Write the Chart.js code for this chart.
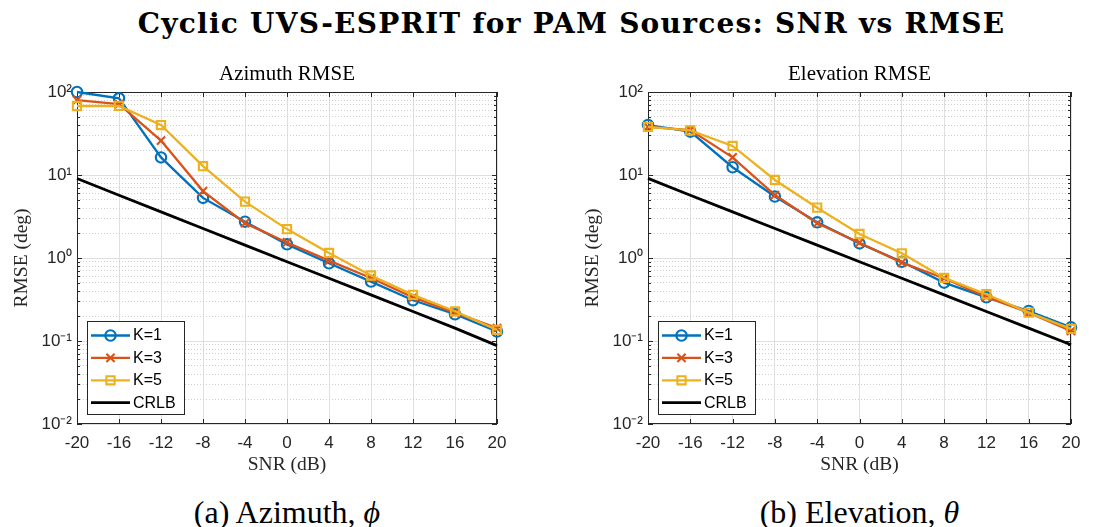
<!DOCTYPE html>
<html>
<head>
<meta charset="utf-8">
<script src="https://cdn.jsdelivr.net/npm/chart.js@4/dist/chart.umd.min.js"></script>
<style>
html,body{margin:0;padding:0;background:#fff;}
body{width:1096px;height:527px;overflow:hidden;position:relative;}
#mainTitle{position:absolute;left:0;top:10px;width:1143px;text-align:center;font-family:"DejaVu Serif";font-weight:bold;font-size:28px;line-height:28px;letter-spacing:1.25px;color:#000;white-space:nowrap;}
.cap{position:absolute;top:496px;text-align:center;font-family:"Liberation Serif";font-size:32px;line-height:32px;color:#000;white-space:nowrap;}
#capA{left:0;width:574px;}
#capB{left:571px;width:577px;}
canvas{position:absolute;top:55px;}
#azCanvas{left:0;}
#elCanvas{left:571px;}
</style>
</head>
<body>
<div id="mainTitle">Cyclic UVS-ESPRIT for PAM Sources: SNR vs RMSE</div>
<canvas id="azCanvas" width="522" height="425"></canvas>
<canvas id="elCanvas" width="525" height="425"></canvas>
<div class="cap" id="capA">(a) Azimuth, <i>ϕ</i></div>
<div class="cap" id="capB">(b) Elevation, <i>θ</i></div>
<script>
// ---- data ----
const snrDb = [-20, -16, -12, -8, -4, 0, 4, 8, 12, 16, 20];
const seriesLabels = ['K=1', 'K=3', 'K=5', 'CRLB'];

const azimuthK1   = [100, 84, 16.3, 5.3, 2.74, 1.46, 0.865, 0.52, 0.31, 0.21, 0.13];
const azimuthK3   = [80, 71.6, 26, 6.4, 2.63, 1.54, 0.93, 0.575, 0.336, 0.22, 0.143];
const azimuthK5   = [67.8, 68, 40, 12.8, 4.78, 2.23, 1.15, 0.615, 0.36, 0.228, 0.136];
const azimuthCRLB = [9.06, 5.7, 3.6, 2.27, 1.43, 0.9, 0.57, 0.36, 0.227, 0.143, 0.088];

const elevationK1   = [40, 33.3, 12.4, 5.5, 2.69, 1.5, 0.9, 0.505, 0.336, 0.23, 0.146];
const elevationK3   = [38, 34.8, 16.3, 5.74, 2.62, 1.53, 0.88, 0.57, 0.34, 0.22, 0.132];
const elevationK5   = [38, 34.5, 22.4, 8.7, 4.04, 1.95, 1.14, 0.575, 0.366, 0.22, 0.14];
const elevationCRLB = [9.1, 5.7, 3.6, 2.27, 1.43, 0.9, 0.57, 0.36, 0.227, 0.143, 0.09];

const yDecades = [0.01, 0.1, 1, 10, 100];
const yDecadeLabels = ['10\u207B\u00B2', '10\u207B\u00B9', '10\u2070', '10\u00B9', '10\u00B2'];

// ---- styles ----
const seriesColors = ['#0072BD', '#D95319', '#EDB120', '#000000'];
const seriesMarkers = ['circle', 'crossRot', 'rect', false];
const seriesWidths = [2.3, 2.3, 2.3, 2.8];
const seriesOrder = [4, 3, 2, 1];

function isDecade(v) {
  const l = Math.log10(v);
  return Math.abs(l - Math.round(l)) < 1e-9;
}
function logTickValues() {
  const vals = [];
  for (let e = -2; e <= 1; e++) {
    for (let k = 1; k <= 9; k++) vals.push(Number((k * Math.pow(10, e)).toPrecision(3)));
  }
  vals.push(100);
  return vals;
}

function drawMarker(ctx, style, x, y, r) {
  ctx.beginPath();
  if (style === 'circle') {
    ctx.arc(x, y, r, 0, Math.PI * 2);
  } else if (style === 'crossRot') {
    const d = r * Math.SQRT1_2;
    ctx.moveTo(x - d, y - d); ctx.lineTo(x + d, y + d);
    ctx.moveTo(x - d, y + d); ctx.lineTo(x + d, y - d);
  } else if (style === 'rect') {
    const d = r * Math.SQRT1_2;
    ctx.rect(x - d, y - d, 2 * d, 2 * d);
  }
  ctx.stroke();
}

const matlabAxes = {
  id: 'matlabAxes',
  beforeDatasetsDraw(chart) {
    const {ctx, chartArea: a, scales} = chart;
    const xs = scales.x, ys = scales.y;
    ctx.save();
    ctx.strokeStyle = '#262626';
    ctx.lineWidth = 1;
    ctx.beginPath();
    xs.ticks.forEach(t => {
      const px = Math.round(xs.getPixelForValue(t.value)) + 0.5;
      ctx.moveTo(px, a.bottom); ctx.lineTo(px, a.bottom - 5);
      ctx.moveTo(px, a.top); ctx.lineTo(px, a.top + 5);
    });
    ys.ticks.forEach(t => {
      const L = isDecade(t.value) ? 5 : 3;
      const py = Math.round(ys.getPixelForValue(t.value)) + 0.5;
      ctx.moveTo(a.left, py); ctx.lineTo(a.left + L, py);
      ctx.moveTo(a.right, py); ctx.lineTo(a.right - L, py);
    });
    ctx.stroke();
    ctx.strokeRect(Math.round(a.left) + 0.5, Math.round(a.top) + 0.5,
                   Math.round(a.right - a.left) - 1, Math.round(a.bottom - a.top) - 1);
    ctx.restore();
  }
};

const boxLegend = {
  id: 'boxLegend',
  afterDatasetsDraw(chart) {
    const {ctx, chartArea: a} = chart;
    const bw = 97, bh = 93;
    const bx = Math.round(a.left) + 10, by = Math.round(a.bottom) - 10 - bh;
    ctx.save();
    ctx.fillStyle = '#ffffff';
    ctx.fillRect(bx, by, bw, bh);
    ctx.strokeStyle = '#262626';
    ctx.lineWidth = 1;
    ctx.strokeRect(bx + 0.5, by + 0.5, bw, bh);
    chart.data.datasets.forEach((ds, i) => {
      const cy = by + 14.5 + i * 22.4;
      ctx.strokeStyle = ds.borderColor;
      ctx.lineWidth = ds.borderWidth;
      ctx.beginPath();
      ctx.moveTo(bx + 4, cy); ctx.lineTo(bx + 43, cy);
      ctx.stroke();
      if (ds.pointStyle) {
        ctx.lineWidth = ds.pointBorderWidth;
        drawMarker(ctx, ds.pointStyle, bx + 23.5, cy, ds.pointRadius);
      }
      ctx.fillStyle = '#000';
      ctx.font = '16px "Liberation Sans"';
      ctx.textBaseline = 'middle';
      ctx.textAlign = 'left';
      ctx.fillText(ds.label, bx + 46, cy + 0.5);
    });
    ctx.restore();
  }
};

function makeChart(canvasId, titleText, seriesValues) {
  const datasets = seriesValues.map((vals, i) => ({
    label: seriesLabels[i],
    data: snrDb.map((x, j) => ({x: x, y: vals[j]})),
    borderColor: seriesColors[i],
    borderWidth: seriesWidths[i],
    pointStyle: seriesMarkers[i],
    pointRadius: seriesMarkers[i] ? (seriesMarkers[i] === 'circle' ? 5.2 : 5.8) : 0,
    pointBorderWidth: 2.1,
    pointBorderColor: seriesColors[i],
    pointBackgroundColor: 'rgba(0,0,0,0)',
    tension: 0,
    fill: false,
    clip: false,
    order: seriesOrder[i]
  }));
  return new Chart(document.getElementById(canvasId), {
    type: 'line',
    data: {datasets: datasets},
    options: {
      responsive: false,
      animation: false,
      devicePixelRatio: 1,
      layout: {padding: {left: 0, right: 25, top: 0, bottom: 0}},
      plugins: {
        legend: {display: false},
        tooltip: {enabled: false},
        title: {
          display: true, text: titleText, fullSize: false, color: '#000',
          font: {family: 'Liberation Serif', size: 21, weight: 'normal', lineHeight: 1.2},
          padding: {top: 6.4, bottom: 5.4}
        }
      },
      scales: {
        x: {
          type: 'linear', min: -20, max: 20,
          afterBuildTicks: s => { s.ticks = snrDb.map(v => ({value: v})); },
          afterFit: s => { s.height = 56; },
          ticks: {
            autoSkip: false, maxRotation: 0, padding: 9, color: '#262626',
            font: {family: 'Liberation Sans', size: 17},
            callback: v => String(v)
          },
          grid: {color: '#dfdfdf', drawTicks: false, lineWidth: 1},
          border: {display: false},
          title: {
            display: true, text: 'SNR (dB)', color: '#262626',
            font: {family: 'Liberation Serif', size: 19.5, lineHeight: 1.2},
            padding: {top: 0, bottom: 3}
          }
        },
        y: {
          type: 'logarithmic', min: 0.01, max: 100,
          afterBuildTicks: s => { s.ticks = logTickValues().map(v => ({value: v, major: isDecade(v)})); },
          afterFit: s => { s.width = 77; },
          ticks: {
            autoSkip: false, padding: 5, color: '#262626',
            font: {family: 'Liberation Sans', size: 17},
            callback: v => {
              const idx = yDecades.findIndex(d => Math.abs(d - v) / d < 1e-6);
              return idx >= 0 ? yDecadeLabels[idx] : '';
            }
          },
          grid: {
            drawTicks: false, lineWidth: 1,
            color: c => (c.tick && isDecade(c.tick.value)) ? '#dfdfdf' : '#cfcfcf'
          },
          border: {
            display: false,
            dash: c => (c.tick && isDecade(c.tick.value)) ? [] : [1, 2]
          },
          title: {
            display: true, text: 'RMSE (deg)', color: '#262626',
            font: {family: 'Liberation Serif', size: 19.5, lineHeight: 1.2},
            padding: {top: 10, bottom: 0}
          }
        }
      }
    },
    plugins: [matlabAxes, boxLegend]
  });
}

makeChart('azCanvas', 'Azimuth RMSE', [azimuthK1, azimuthK3, azimuthK5, azimuthCRLB]);
makeChart('elCanvas', 'Elevation RMSE', [elevationK1, elevationK3, elevationK5, elevationCRLB]);
</script>
</body>
</html>
